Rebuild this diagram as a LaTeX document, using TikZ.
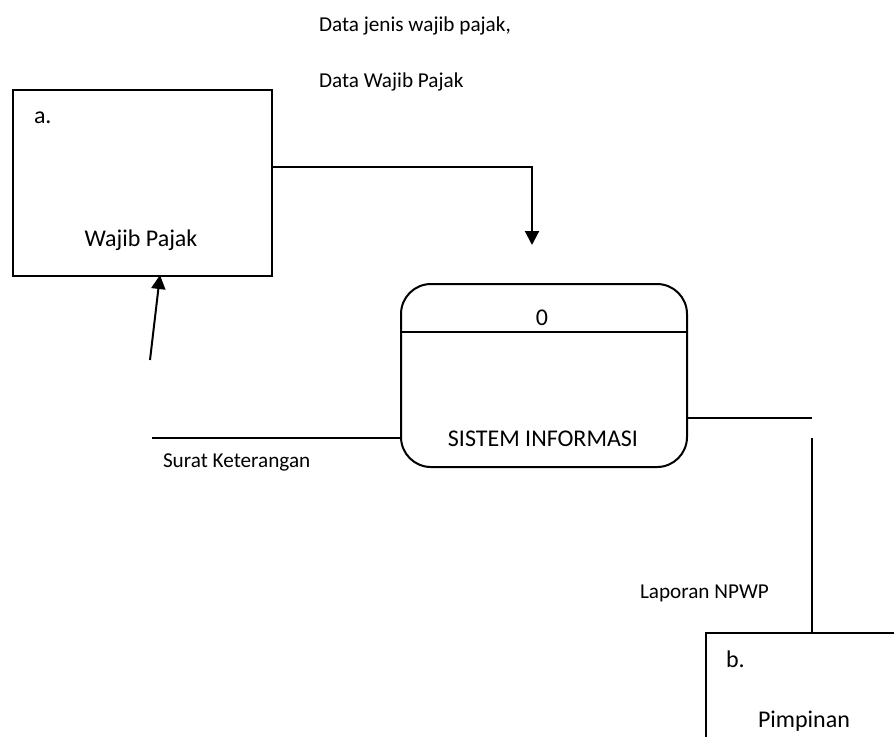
\documentclass[tikz,border=0pt]{standalone}
\usepackage{fontspec}
\setmainfont{Carlito}
\usetikzlibrary{arrows.meta}

\begin{document}
\begin{tikzpicture}[x=0.5pt, y=-0.5pt, line width=1pt,
  entity/.style={draw, rectangle, inner sep=0pt, anchor=north west},
  proc/.style={draw, rectangle, rounded corners=15pt, inner sep=0pt, anchor=north west},
  flow/.style={-{Triangle[width=7pt, length=7pt]}},
  lbl/.style={font=\fontsize{10.6}{12}\selectfont, anchor=base west, inner sep=0pt},
  big/.style={font=\fontsize{12}{14}\selectfont, inner sep=0pt}]
\useasboundingbox (0,0) rectangle (894,736);
\clip (0,0) rectangle (894,736);

% external entities and the process
\node[entity, minimum width=129.5pt, minimum height=93pt] (wp) at (12,89) {};
\node[proc, minimum width=143pt, minimum height=91.5pt] (si) at (400,283) {};
\node[entity, minimum width=110pt, minimum height=70pt] (pp) at (705,632) {};

% process divider
\draw (si.west |- 0,332) -- (si.east |- 0,332);

% texts inside the shapes
\node[big, anchor=base west] (wpid) at (33,123) {a.};
\node[big, anchor=base] (wpname) at (141,246) {Wajib Pajak};
\node[big, anchor=base] (siid) at (542,325) {0};
\node[big, anchor=base] (siname) at (543,446) {SISTEM INFORMASI};
\node[big, anchor=base west] (ppid) at (725,667) {b.};
\node[big, anchor=base] (ppname) at (804,727) {Pimpinan};

% data flow labels
\node[lbl] (f1a) at (318,31) {Data jenis wajib pajak,};
\node[lbl] (f1b) at (318,87) {Data Wajib Pajak};
\node[lbl] (f2) at (162,467) {Surat Keterangan};
\node[lbl] (f3) at (639,598) {Laporan NPWP};

% free ends of the flows
\coordinate (c1) at (532,167);
\coordinate (c1end) at (532,245);
\coordinate (c2a) at (152,438);
\coordinate (c2b) at (150,360);
\coordinate (c2tip) at (160,275);
\coordinate (c3a) at (812,418);
\coordinate (c3b) at (812,438);

% Wajib Pajak -> Sistem Informasi
\draw[flow] (wp.east |- c1) -- (c1) -- (c1end);
% Sistem Informasi -> Wajib Pajak
\draw (si.west |- c2a) -- (c2a);
\draw[flow] (c2b) -- (c2tip);
% Sistem Informasi -> Pimpinan
\draw (si.east |- c3a) -- (c3a);
\draw (c3b) -- (c3b |- pp.north);
\end{tikzpicture}
\end{document}
